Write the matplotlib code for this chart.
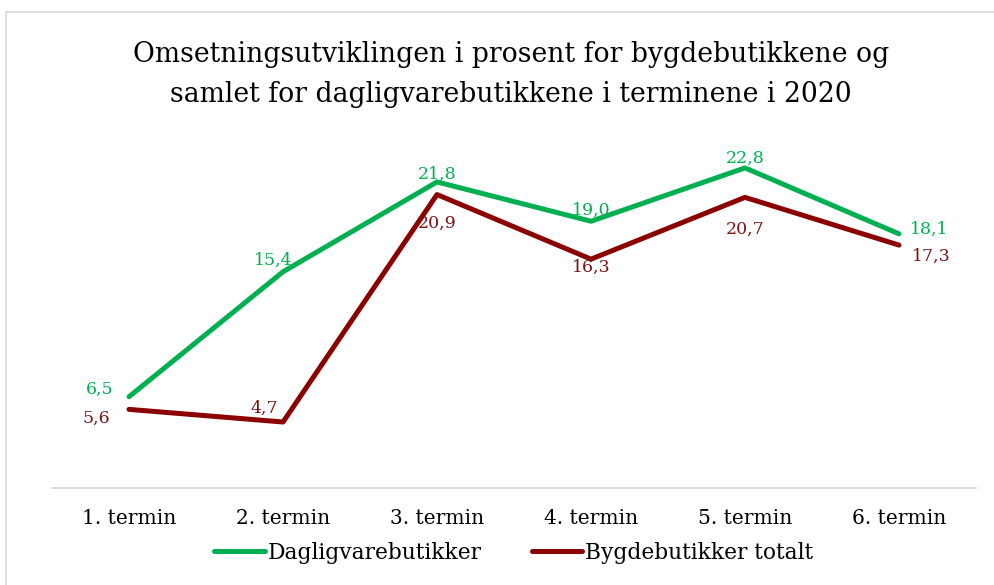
import matplotlib.pyplot as plt
from matplotlib.lines import Line2D

plt.rcParams['font.family'] = ['DejaVu Serif']

terminer = ['1. termin', '2. termin', '3. termin', '4. termin', '5. termin', '6. termin']
dagligvare = [6.5, 15.4, 21.8, 19.0, 22.8, 18.1]
bygde = [5.6, 4.7, 20.9, 16.3, 20.7, 17.3]

green = '#00B050'
red = '#8B0000'
red_txt = '#7A1212'

# label offsets in pixels (dx, dy) for each point, like Excel's placement
off_green = [(-29, 7), (-10, 11), (0, 8), (0, 11), (0, 10), (30, 5)]
off_red = [(-33, -9), (-19, 14), (0, -29), (0, -8), (0, -32), (32, -11)]

W, H = 994, 585
fig = plt.figure(figsize=(W / 100, H / 100), dpi=100)
ax = fig.add_axes([52 / W, (H - 488) / H, (976 - 52) / W, (488 - 137) / H])

x = range(len(terminer))
ax.plot(x, dagligvare, color=green, lw=3.6, label='Dagligvarebutikker', solid_capstyle='round')
ax.plot(x, bygde, color=red, lw=3.6, label='Bygdebutikker totalt', solid_capstyle='round')

for vals, offs, col in [(dagligvare, off_green, green), (bygde, off_red, red_txt)]:
    for i, v in enumerate(vals):
        s = f'{v:.1f}'.replace('.', ',')
        ax.annotate(s, (i, v), xytext=offs[i], textcoords='offset pixels',
                    ha='center', va='center', color=col, fontsize=12.5)

ax.set_xlim(-0.5, len(terminer) - 0.5)
ax.set_ylim(0, 25)
ax.set_xticks(list(x))
ax.set_xticklabels(terminer, fontsize=14.5)
ax.tick_params(axis='x', length=0, pad=15)
ax.set_yticks([])
for side in ['top', 'right', 'left']:
    ax.spines[side].set_visible(False)
ax.spines['bottom'].set_color('#D9D9D9')
ax.spines['bottom'].set_linewidth(1.2)

fig.text(511 / W, 1 - 55 / H, 'Omsetningsutviklingen i prosent for bygdebutikkene og',
         ha='center', va='center', fontsize=19.2)
fig.text(511 / W, 1 - 95 / H, 'samlet for dagligvarebutikkene i terminene i 2020',
         ha='center', va='center', fontsize=19.2)

fig.legend(loc='center', bbox_to_anchor=(514 / W, 1 - 553 / H), ncol=2, frameon=False, fontsize=15.7,
           handlelength=2.3, handletextpad=0.15, columnspacing=2.3)

# outer chart border (left and top edges visible)
fig.add_artist(Line2D([6 / W, 6 / W], [0, 1 - 12 / H], transform=fig.transFigure, color='#D9D9D9', lw=1.2))
fig.add_artist(Line2D([6 / W, 1], [1 - 12 / H, 1 - 12 / H], transform=fig.transFigure, color='#D9D9D9', lw=1.2))

fig.savefig('out.png', dpi=100)
